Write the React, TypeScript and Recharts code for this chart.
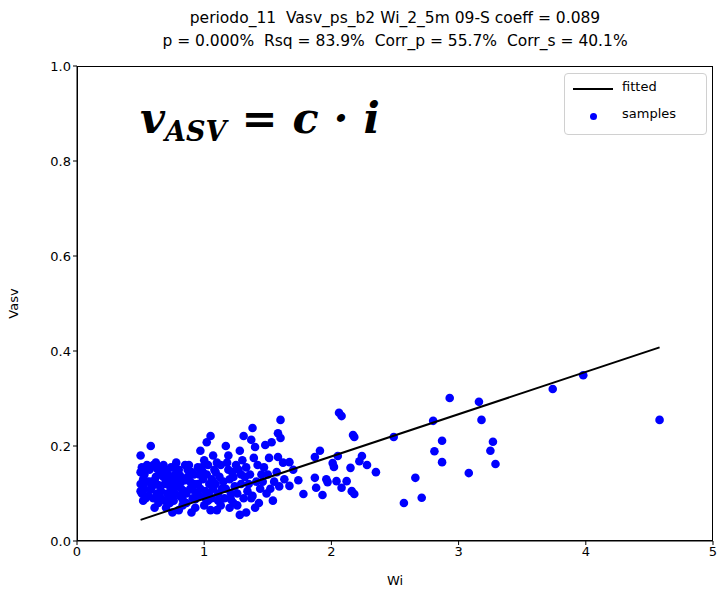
import React from "react";
import {
  ScatterChart,
  Scatter,
  XAxis,
  YAxis,
  ZAxis,
} from "recharts";

const COEFF = 0.089;

const xTicks = [0, 1, 2, 3, 4, 5];
const yTicks = [0, 0.2, 0.4, 0.6, 0.8, 1.0];

const titleLines = [
  "periodo_11  Vasv_ps_b2 Wi_2_5m 09-S coeff = 0.089",
  "p = 0.000%  Rsq = 83.9%  Corr_p = 55.7%  Corr_s = 40.1%",
];

// Wi, Vasv pairs — the dense low-Wi cluster
const clusterSamples: [number, number][] = [
  [0.50, 0.180], [0.51, 0.155], [0.50, 0.145], [0.52, 0.130], [0.50, 0.120], [0.53, 0.110],
  [0.51, 0.100], [0.54, 0.090], [0.52, 0.085], [0.55, 0.125], [0.53, 0.140], [0.50, 0.105],
  [0.58, 0.200], [0.60, 0.160], [0.57, 0.150], [0.62, 0.135], [0.59, 0.115], [0.63, 0.100],
  [0.60, 0.090], [0.64, 0.080], [0.61, 0.070], [0.57, 0.125], [0.65, 0.145], [0.62, 0.165],
  [0.68, 0.160], [0.70, 0.150], [0.67, 0.140], [0.72, 0.130], [0.69, 0.120], [0.74, 0.110],
  [0.71, 0.100], [0.66, 0.090], [0.73, 0.080], [0.70, 0.070], [0.75, 0.060], [0.74, 0.155],
  [0.68, 0.135], [0.78, 0.165], [0.80, 0.150], [0.77, 0.140], [0.82, 0.125], [0.79, 0.115],
  [0.84, 0.105], [0.81, 0.095], [0.76, 0.085], [0.83, 0.075], [0.80, 0.065], [0.85, 0.160],
  [0.78, 0.130], [0.88, 0.160], [0.90, 0.145], [0.87, 0.135], [0.92, 0.120], [0.89, 0.110],
  [0.94, 0.100], [0.91, 0.090], [0.86, 0.080], [0.93, 0.070], [0.90, 0.060], [0.95, 0.155],
  [0.97, 0.190], [1.00, 0.170], [0.98, 0.155], [1.02, 0.140], [0.99, 0.130], [1.04, 0.120],
  [1.01, 0.105], [0.96, 0.095], [1.03, 0.085], [1.00, 0.075], [1.05, 0.065], [1.02, 0.208],
  [1.05, 0.221], [1.07, 0.180], [1.10, 0.165], [1.08, 0.150], [1.12, 0.135], [1.09, 0.120],
  [1.14, 0.110], [1.11, 0.100], [1.06, 0.090], [1.13, 0.075], [1.10, 0.065], [1.17, 0.200],
  [1.19, 0.180], [1.18, 0.165], [1.22, 0.145], [1.20, 0.130], [1.24, 0.115], [1.21, 0.100],
  [1.16, 0.090], [1.23, 0.080], [1.20, 0.070], [1.28, 0.190], [1.31, 0.221], [1.30, 0.170],
  [1.27, 0.150], [1.32, 0.135], [1.29, 0.120], [1.34, 0.105], [1.31, 0.090], [1.26, 0.075],
  [1.28, 0.055], [1.33, 0.060], [1.38, 0.238], [1.37, 0.213], [1.40, 0.198], [1.39, 0.175],
  [1.42, 0.160], [1.36, 0.140], [1.41, 0.125], [1.44, 0.110], [1.38, 0.095], [1.43, 0.080],
  [1.40, 0.070], [1.48, 0.202], [1.51, 0.175], [1.47, 0.155], [1.53, 0.208], [1.50, 0.140],
  [1.46, 0.125], [1.52, 0.110], [1.49, 0.100], [1.54, 0.085], [1.60, 0.255], [1.58, 0.227],
  [1.60, 0.217], [1.58, 0.177], [1.62, 0.165], [1.57, 0.145], [1.63, 0.130], [1.59, 0.115],
  [1.67, 0.166], [1.74, 0.128], [1.67, 0.116], [1.70, 0.150], [1.78, 0.099],
  // second pass over the densest band
  [0.55, 0.160], [0.56, 0.095], [0.54, 0.150], [0.58, 0.108], [0.61, 0.128], [0.63, 0.152],
  [0.64, 0.118], [0.66, 0.105], [0.67, 0.155], [0.69, 0.085], [0.71, 0.142], [0.72, 0.118],
  [0.73, 0.095], [0.75, 0.135], [0.76, 0.120], [0.77, 0.100], [0.79, 0.150], [0.81, 0.138],
  [0.82, 0.110], [0.83, 0.088], [0.85, 0.128], [0.86, 0.100], [0.87, 0.150], [0.89, 0.125],
  [0.91, 0.108], [0.92, 0.140], [0.93, 0.088], [0.95, 0.120], [0.96, 0.140], [0.97, 0.110],
  [0.99, 0.145], [1.01, 0.090], [1.03, 0.160], [1.04, 0.100], [1.06, 0.130], [1.07, 0.110],
  [1.09, 0.145], [1.11, 0.085], [1.13, 0.160], [1.15, 0.125], [1.17, 0.110], [1.19, 0.150],
  [1.21, 0.088], [1.23, 0.135], [1.25, 0.160], [1.26, 0.100], [1.29, 0.140], [1.33, 0.155],
  [1.35, 0.120], [1.37, 0.090], [1.45, 0.140], [1.55, 0.125],
];

// sparser points at higher Wi
const spreadSamples: [number, number][] = [
  [1.87, 0.177], [1.91, 0.190], [2.05, 0.179], [2.01, 0.164], [2.02, 0.156], [2.15, 0.154],
  [1.87, 0.133], [1.96, 0.130], [1.97, 0.124], [2.04, 0.126], [2.12, 0.126], [1.88, 0.112],
  [2.08, 0.112], [1.93, 0.097], [2.16, 0.105], [2.18, 0.099], [2.06, 0.270], [2.08, 0.263],
  [2.17, 0.223], [2.18, 0.219], [2.24, 0.179], [2.22, 0.168], [2.28, 0.160], [2.35, 0.145],
  [2.49, 0.219], [2.80, 0.253], [2.87, 0.211], [2.81, 0.189], [2.87, 0.166], [2.93, 0.301],
  [3.16, 0.293], [3.18, 0.255], [3.27, 0.209], [3.25, 0.190], [3.29, 0.162], [3.08, 0.143],
  [2.66, 0.133], [2.71, 0.091], [2.57, 0.080], [3.74, 0.320], [3.98, 0.349], [4.58, 0.255],
];

const samples = [...clusterSamples, ...spreadSamples].map(([wi, vasv]) => ({ wi, vasv }));

// fitted line spans the sample range
const wiMin = Math.min(...samples.map((s) => s.wi));
const wiMax = Math.max(...samples.map((s) => s.wi));
const fitted = [
  { wi: wiMin, vasv: COEFF * wiMin },
  { wi: wiMax, vasv: COEFF * wiMax },
];

const FONT = "'DejaVu Sans', sans-serif";
const tickStyle = { fontSize: 13, fill: "#000", fontFamily: FONT };

export default function App() {
  return (
    <div style={{ position: "absolute", left: 0, top: 0, width: 717, height: 595, background: "#fff" }}>
      <ScatterChart
        width={717}
        height={595}
        margin={{ top: 66, right: 4, left: 37, bottom: 24 }}
        style={{ fontFamily: FONT }}
      >
        <XAxis
          type="number"
          dataKey="wi"
          domain={[0, 5]}
          ticks={xTicks}
          tick={tickStyle}
          tickSize={4}
          height={30}
          stroke="#000"
          allowDataOverflow
          label={{ value: "Wi", position: "insideBottom", offset: -14, style: { fontSize: 13, fill: "#000" } }}
        />
        <YAxis
          type="number"
          dataKey="vasv"
          domain={[0, 1]}
          ticks={yTicks}
          tickFormatter={(v: number) => v.toFixed(1)}
          tick={tickStyle}
          tickSize={4}
          width={40}
          stroke="#000"
          allowDataOverflow
          label={{ value: "Vasv", angle: -90, position: "insideLeft", offset: -24, style: { fontSize: 13, fill: "#000", textAnchor: "middle" } }}
        />
        <ZAxis range={[60, 60]} />
        <Scatter
          data={samples}
          fill="#0000ff"
          isAnimationActive={false}
          shape={(p: any) => <circle cx={p.cx} cy={p.cy} r={4.3} fill="#0000ff" />}
        />
        <Scatter
          data={fitted}
          line={{ stroke: "#000", strokeWidth: 2 }}
          shape={() => null}
          isAnimationActive={false}
        />
      </ScatterChart>

      {/* axes frame */}
      <div
        style={{
          position: "absolute",
          left: 77,
          top: 66,
          width: 636,
          height: 475,
          boxSizing: "border-box",
          border: "1.5px solid #000",
          pointerEvents: "none",
        }}
      />

      <div
        style={{
          position: "absolute",
          left: 77,
          width: 636,
          top: 7,
          textAlign: "center",
          fontFamily: FONT,
          fontSize: 15.5,
          lineHeight: "23px",
          color: "#000",
        }}
      >
        {titleLines.map((t) => (
          <div key={t} style={{ whiteSpace: "pre" }}>{t}</div>
        ))}
      </div>

      <div
        style={{
          position: "absolute",
          left: 140,
          top: 93,
          fontFamily: "'DejaVu Serif', serif",
          fontStyle: "italic",
          fontWeight: "bold",
          fontSize: 43,
          color: "#000",
          whiteSpace: "pre",
        }}
      >
        v<sub style={{ fontSize: 27, verticalAlign: "-8px" }}>ASV</sub> = c · i
      </div>

      <div
        style={{
          position: "absolute",
          left: 564,
          top: 73,
          width: 141,
          height: 60,
          border: "1px solid #d0d0d0",
          borderRadius: 4,
          background: "#fff",
          fontFamily: FONT,
          fontSize: 13,
          color: "#000",
        }}
      >
        <div style={{ position: "absolute", left: 8, top: 14, width: 40, height: 2, background: "#000" }} />
        <div style={{ position: "absolute", left: 57, top: 5 }}>fitted</div>
        <div style={{ position: "absolute", left: 25, top: 39, width: 7, height: 7, borderRadius: 4, background: "#0000ff" }} />
        <div style={{ position: "absolute", left: 57, top: 32 }}>samples</div>
      </div>
    </div>
  );
}
